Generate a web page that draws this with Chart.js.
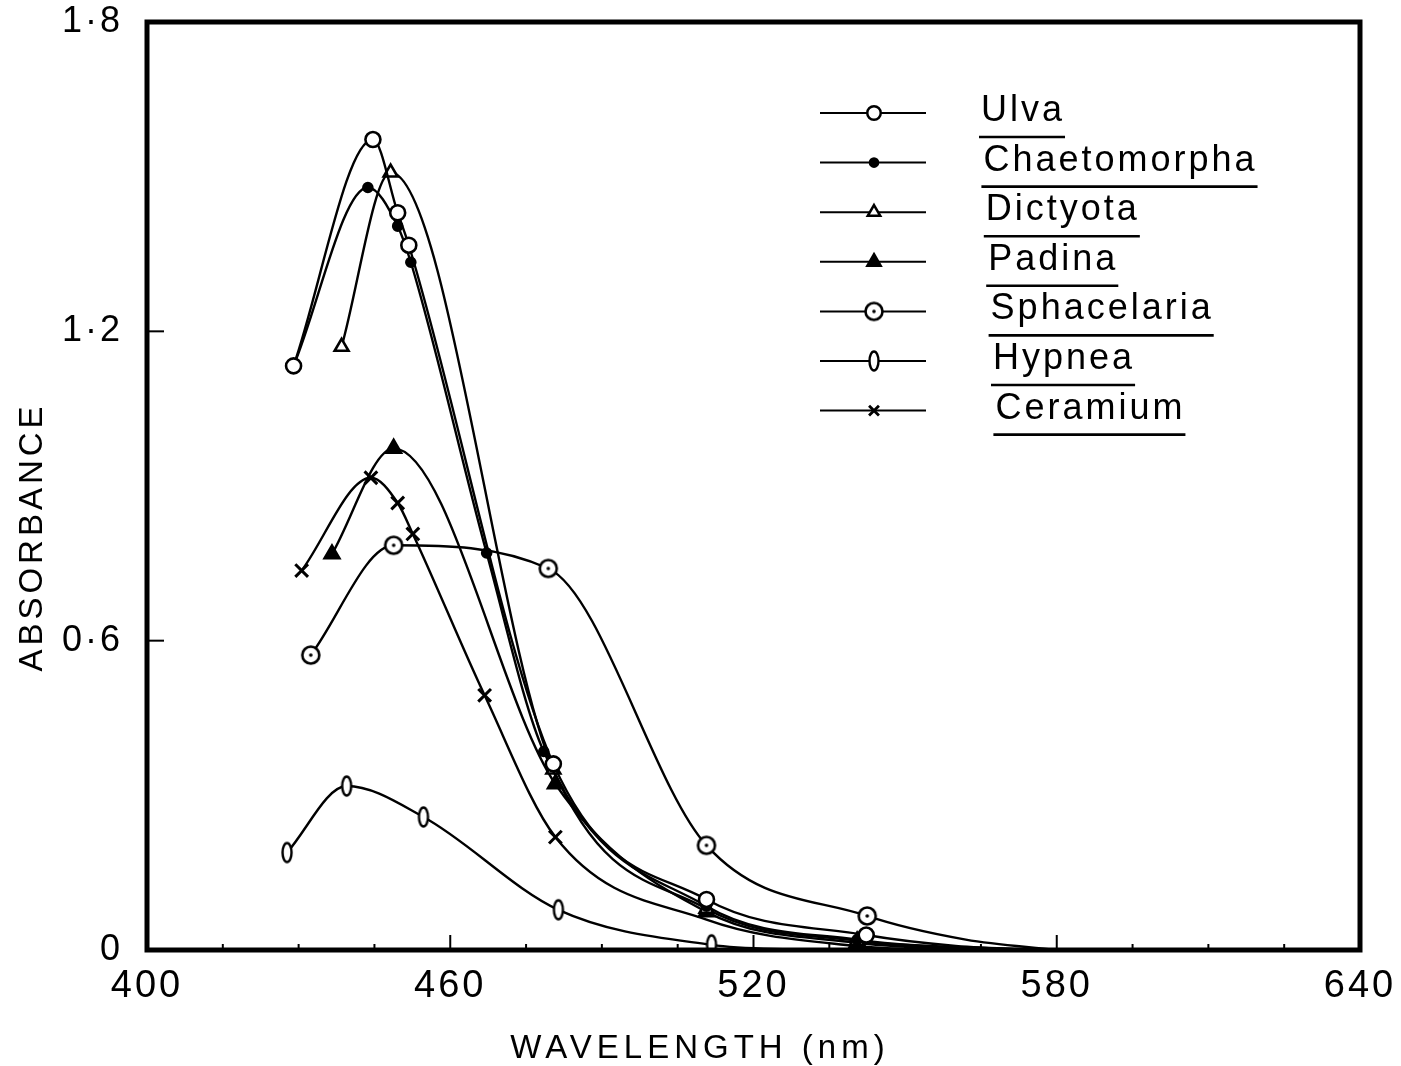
<!DOCTYPE html>
<html>
<head>
<meta charset="utf-8">
<script src="https://cdn.jsdelivr.net/npm/chart.js@4.4.1/dist/chart.umd.min.js"></script>
<style>
  html, body { margin: 0; padding: 0; background: #fff; }
  #wrap { width: 1401px; height: 1066px; }
</style>
</head>
<body>
<div id="wrap"><canvas id="absChart" width="1401" height="1066"></canvas></div>
<script>
// readings taken off the figure: wavelength (nm) and absorbance
const species = ['Ulva', 'Chaetomorpha', 'Dictyota', 'Padina', 'Sphacelaria', 'Hypnea', 'Ceramium'];

const ulvaNm  = [429, 444.7, 449.6, 451.8, 480.4, 510.7, 542.3];
const ulvaAbs = [1.133, 1.572, 1.43, 1.367, 0.361, 0.098, 0.029];

const chaetoNm  = [429, 443.7, 449.6, 452.2, 467.2, 478.5, 510.7, 540.5];
const chaetoAbs = [1.133, 1.479, 1.404, 1.334, 0.77, 0.385, 0.085, 0.02];

const dictyotaNm  = [438.5, 448.2, 480.4, 510.7, 540.5];
const dictyotaAbs = [1.17, 1.508, 0.35, 0.08, 0.018];

const padinaNm  = [436.6, 448.8, 480.8, 510.7, 540.5];
const padinaAbs = [0.768, 0.973, 0.322, 0.074, 0.014];

const sphaceNm  = [432.4, 448.8, 479.4, 510.7, 542.5];
const sphaceAbs = [0.572, 0.785, 0.74, 0.203, 0.066];

const hypneaNm  = [427.7, 439.5, 454.7, 481.4, 511.7];
const hypneaAbs = [0.189, 0.318, 0.258, 0.078, 0.01];

const ceramNm  = [430.6, 444.3, 449.6, 452.6, 466.8, 480.8];
const ceramAbs = [0.736, 0.916, 0.867, 0.807, 0.494, 0.219];

// where each hand-drawn curve runs on past its last marker, down to the baseline
const ulvaTail     = [[560, 0.008], [578, 0]];
const chaetoTail   = [[575, 0]];
const dictyotaTail = [[575, 0]];
const padinaTail   = [[570, 0]];
const sphaceTail   = [[562, 0.02], [580, 0]];
const hypneaTail   = [[530, 0]];
const ceramTail    = [[510.7, 0.059], [540, 0.008], [560, 0]];

const wavelengthTicks = [400, 460, 520, 580, 640];
const absorbanceTicks = [0, 0.6, 1.2, 1.8];

const FONT = "'Liberation Sans', Arial, sans-serif";

// custom marker shapes
function ringDot() {
    const c = document.createElement('canvas');
    c.width = 24; c.height = 24;
    const g = c.getContext('2d');
    g.lineWidth = 2.6; g.strokeStyle = '#000'; g.fillStyle = '#fff';
    g.beginPath(); g.arc(12, 12, 8.5, 0, Math.PI * 2); g.fill(); g.stroke();
    g.fillStyle = '#000';
    g.beginPath(); g.arc(12, 12, 1.8, 0, Math.PI * 2); g.fill();
    return c;
}
function oval() {
    const c = document.createElement('canvas');
    c.width = 14; c.height = 24;
    const g = c.getContext('2d');
    g.lineWidth = 2.4; g.strokeStyle = '#000'; g.fillStyle = '#fff';
    g.beginPath(); g.ellipse(7, 12, 4.5, 9.5, 0, 0, Math.PI * 2); g.fill(); g.stroke();
    return c;
}

const styles = [
    { pointStyle: 'circle', radius: 7.5, fill: '#fff' },
    { pointStyle: 'circle', radius: 4.5, fill: '#000' },
    { pointStyle: 'triangle', radius: 8, fill: '#fff' },
    { pointStyle: 'triangle', radius: 8.5, fill: '#000' },
    { pointStyle: ringDot(), radius: 9, fill: '#fff' },
    { pointStyle: oval(), radius: 9, fill: '#fff' },
    { pointStyle: 'crossRot', radius: 9, fill: '#fff' }
];

function series(nm, abs, tail) {
    const pts = nm.map((x, i) => ({ x: x, y: abs[i] }));
    tail.forEach(p => pts.push({ x: p[0], y: p[1] }));
    return pts;
}

const allNm = [ulvaNm, chaetoNm, dictyotaNm, padinaNm, sphaceNm, hypneaNm, ceramNm];
const allAbs = [ulvaAbs, chaetoAbs, dictyotaAbs, padinaAbs, sphaceAbs, hypneaAbs, ceramAbs];
const allTail = [ulvaTail, chaetoTail, dictyotaTail, padinaTail, sphaceTail, hypneaTail, ceramTail];

const datasets = species.map((name, k) => ({
    label: name,
    data: series(allNm[k], allAbs[k], allTail[k]),
    borderColor: '#000',
    borderWidth: 2.4,
    backgroundColor: styles[k].fill,
    pointStyle: styles[k].pointStyle,
    pointRadius: ctx => ctx.dataIndex < allNm[k].length ? styles[k].radius : 0,
    pointBorderColor: '#000',
    pointBackgroundColor: styles[k].fill,
    pointBorderWidth: k === 6 ? 3 : 2.6,
    cubicInterpolationMode: 'monotone',
    fill: false
}));

// frame, inward ticks, axis titles and the underlined key
const decorations = {
    id: 'decorations',
    beforeDraw(chart) {
        chart.ctx.letterSpacing = '3px';
    },
    afterDraw(chart) {
        const ctx = chart.ctx;
        const a = chart.chartArea;
        const xs = chart.scales.x, ys = chart.scales.y;
        ctx.save();
        ctx.strokeStyle = '#000';
        ctx.fillStyle = '#000';

        // x ticks, major every 60 nm, minor every 15 nm
        ctx.lineWidth = 2;
        for (let v = 415; v < 640; v += 15) {
            const px = xs.getPixelForValue(v);
            const len = (v - 400) % 60 === 0 ? 15 : 6;
            ctx.beginPath(); ctx.moveTo(px, a.bottom); ctx.lineTo(px, a.bottom - len); ctx.stroke();
        }
        // y ticks
        absorbanceTicks.forEach(v => {
            const py = ys.getPixelForValue(v);
            ctx.beginPath(); ctx.moveTo(a.left, py); ctx.lineTo(a.left + 17, py); ctx.stroke();
        });

        // frame
        ctx.lineWidth = 5;
        ctx.strokeRect(a.left, a.top, a.right - a.left, a.bottom - a.top);

        // axis titles
        ctx.font = '33px ' + FONT;
        ctx.textAlign = 'center';
        ctx.textBaseline = 'middle';
        ctx.letterSpacing = '5px';
        ctx.fillText('WAVELENGTH (nm)', 700, 1049);
        ctx.save();
        ctx.translate(33, 537);
        ctx.rotate(-Math.PI / 2);
        ctx.letterSpacing = '4px';
        ctx.fillText('ABSORBANCE', 0, 0);
        ctx.restore();

        // key
        ctx.font = '36px ' + FONT;
        ctx.letterSpacing = '3px';
        ctx.textAlign = 'left';
        chart.data.datasets.forEach((ds, i) => {
            const y = 113 + i * 49.6;
            ctx.lineWidth = 2;
            ctx.beginPath(); ctx.moveTo(820, y); ctx.lineTo(926, y); ctx.stroke();
            ctx.fillStyle = styles[i].fill;
            ctx.lineWidth = i === 6 ? 2.8 : 2.5;
            Chart.helpers.drawPoint(ctx, {
                pointStyle: styles[i].pointStyle,
                radius: i === 6 ? 7 : styles[i].radius * 0.9,
                borderWidth: ctx.lineWidth,
                rotation: 0
            }, 874, y);
            ctx.fillStyle = '#000';
            const tx = 981 + i * 2.4;
            ctx.fillText(ds.label, tx, y - 2);
            const w = ctx.measureText(ds.label).width - 3;
            ctx.lineWidth = 2.6;
            ctx.beginPath(); ctx.moveTo(tx - 2, y + 24); ctx.lineTo(tx + w + 3, y + 24); ctx.stroke();
        });
        ctx.restore();
    }
};

new Chart(document.getElementById('absChart').getContext('2d'), {
    type: 'line',
    data: { datasets: datasets },
    options: {
        responsive: false,
        animation: false,
        events: [],
        layout: { padding: { top: 22, right: 41, left: 0, bottom: 0 } },
        plugins: {
            legend: { display: false },
            tooltip: { enabled: false },
            title: { display: false }
        },
        scales: {
            x: {
                type: 'linear',
                min: 400,
                max: 640,
                afterBuildTicks: s => { s.ticks = wavelengthTicks.map(v => ({ value: v })); },
                afterFit: s => { s.height = 116; s.paddingLeft = 0; s.paddingRight = 0; },
                grid: { display: false, drawTicks: false },
                border: { display: false },
                ticks: {
                    color: '#000',
                    font: { family: FONT, size: 38 },
                    padding: 14,
                    maxRotation: 0,
                    autoSkip: false
                }
            },
            y: {
                min: 0,
                max: 1.8,
                afterBuildTicks: s => { s.ticks = absorbanceTicks.map(v => ({ value: v })); },
                afterFit: s => { s.width = 147; s.paddingTop = 0; s.paddingBottom = 0; },
                grid: { display: false, drawTicks: false },
                border: { display: false },
                ticks: {
                    color: '#000',
                    font: { family: FONT, size: 36 },
                    padding: 24,
                    autoSkip: false,
                    callback: v => v === 0 ? '0' : v.toFixed(1).replace('.', '·')
                }
            }
        }
    },
    plugins: [decorations]
});
</script>
</body>
</html>
